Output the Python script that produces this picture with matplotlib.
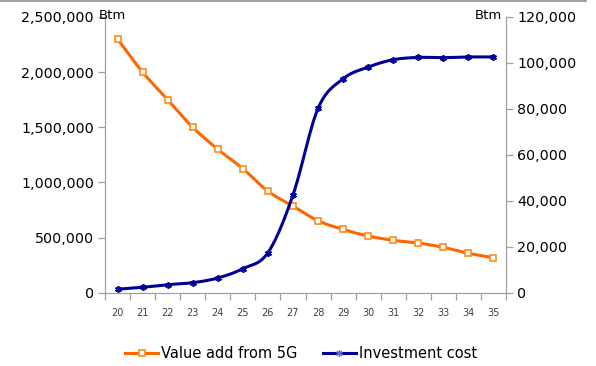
import matplotlib
matplotlib.use("Agg")
import matplotlib.pyplot as plt
from matplotlib.lines import Line2D
from matplotlib.ticker import FuncFormatter, FixedLocator
import numpy as np

# data
years = [20, 21, 22, 23, 24, 25, 26, 27, 28, 29, 30, 31, 32, 33, 34, 35]
value_add = [2300000, 2000000, 1750000, 1500000, 1300000, 1125000, 920000, 785000,
             652000, 574000, 514000, 475000, 450000, 411000, 357000, 317000]
invest_cost = [1500, 2350, 3500, 4350, 6400, 10450, 17400, 42500,
               80200, 93100, 98200, 101400, 102400, 102300, 102600, 102600]

orange = "#FF6600"
navy = "#000099"
grey = "#A0A0A0"


# Excel-like smoothed line (bezier through the points)
def smooth(x, y, n=16):
    x = np.asarray(x, float)
    y = np.asarray(y, float)
    xs, ys = [], []
    for i in range(len(x) - 1):
        p0 = np.array([x[max(i - 1, 0)], y[max(i - 1, 0)]])
        p1 = np.array([x[i], y[i]])
        p2 = np.array([x[i + 1], y[i + 1]])
        p3 = np.array([x[min(i + 2, len(x) - 1)], y[min(i + 2, len(x) - 1)]])
        c1 = p1 + (p2 - p0) / 6
        c2 = p2 - (p3 - p1) / 6
        t = np.linspace(0, 1, n)[:, None]
        pts = (1 - t) ** 3 * p1 + 3 * (1 - t) ** 2 * t * c1 + 3 * (1 - t) * t ** 2 * c2 + t ** 3 * p2
        xs.extend(pts[:, 0])
        ys.extend(pts[:, 1])
    return xs, ys


fig = plt.figure(figsize=(5.96, 3.66), dpi=100)
ax = fig.add_axes([0.1762, 0.2003, 0.6728, 0.7533])
ax2 = ax.twinx()

sx, sy = smooth(years, value_add)
ax.plot(sx, sy, color=orange, lw=2.2, solid_capstyle="round", zorder=3)
ax.plot(years, value_add, ls="none", marker="s", ms=4.6, mfc="white", mec="#FF8C1A", mew=1.2, zorder=4)

sx2, sy2 = smooth(years, invest_cost)
ax2.plot(sx2, sy2, color=navy, lw=2.2, solid_capstyle="round", zorder=3)
ax2.plot(years, invest_cost, ls="none", marker=(6, 2, 0), ms=4.8, mec=navy, mew=1.2, zorder=4)

ax.set_xlim(19.5, 35.5)
ax.set_ylim(0, 2500000)
ax2.set_ylim(0, 120000)
ax.set_yticks(np.arange(0, 2500001, 500000))
ax2.set_yticks(np.arange(0, 120001, 20000))
fmt = FuncFormatter(lambda v, p: f"{int(v):,}")
ax.yaxis.set_major_formatter(fmt)
ax2.yaxis.set_major_formatter(fmt)

ax.set_xticks(years)
ax.set_xticklabels([str(y) for y in years], fontsize=7, color="#404040")
ax.xaxis.set_minor_locator(FixedLocator(np.arange(19.5, 36, 1)))
ax.tick_params(axis="x", which="major", length=0, pad=11)
ax.tick_params(axis="x", which="minor", length=5, color=grey, width=0.9)
ax.tick_params(axis="y", length=5, color=grey, width=0.9, labelsize=10.3, pad=3)
ax2.tick_params(axis="y", length=5, color=grey, width=0.9, labelsize=10.3, pad=3)

for a in (ax, ax2):
    a.spines["top"].set_visible(False)
    for s in ("left", "right", "bottom"):
        a.spines[s].set_color(grey)
        a.spines[s].set_linewidth(0.9)
ax.spines["right"].set_visible(False)
ax2.spines["left"].set_visible(False)
ax2.spines["bottom"].set_visible(False)

fig.text(0.166, 0.957, "Btm", fontsize=9.5, ha="left", va="center")
fig.text(0.843, 0.957, "Btm", fontsize=9.5, ha="right", va="center")

# thin frame line at the top
fig.add_artist(Line2D([0, 0.983], [0.996, 0.996], color="#909090", lw=1.2))

handles = [
    Line2D([], [], color=orange, lw=2.2, marker="s", ms=4.6, mfc="white", mec="#FF8C1A", mew=1.2),
    Line2D([], [], color=navy, lw=2.2, marker=(6, 2, 0), ms=4.8, mec="#6666CC", mew=1.0),
]
fig.legend(handles, ["Value add from 5G", "Investment cost"], loc="center",
           bbox_to_anchor=(0.505, 0.033), ncol=2, frameon=False, fontsize=10.5,
           handlelength=2.3, handletextpad=0.2, columnspacing=1.7)

fig.savefig("out.png", dpi=100)
